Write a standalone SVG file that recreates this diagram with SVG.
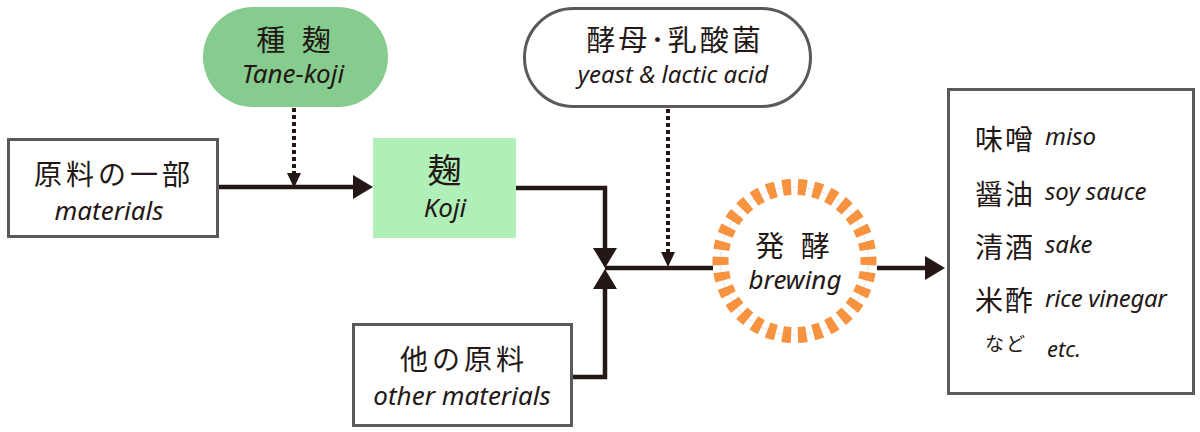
<svg xmlns="http://www.w3.org/2000/svg" width="1200" height="432" viewBox="0 0 1200 432">
<style>
.jp{font-family:"Noto Sans CJK JP","Noto Sans",sans-serif;fill:#231815}
.en{font-family:"Noto Sans","Open Sans",sans-serif;font-style:italic;fill:#231815}
.box{fill:#fff;stroke:#5a5a5a;stroke-width:3}
.con{fill:none;stroke:#231815;stroke-width:4.5;stroke-linejoin:miter}
.dot{fill:none;stroke:#231815;stroke-width:4;stroke-dasharray:4 3}
</style>
<defs>
<marker id="a" markerUnits="userSpaceOnUse" markerWidth="20" markerHeight="24" viewBox="0 0 20 24" refX="0" refY="12" orient="auto"><path d="M0,0 L20,12 L0,24 z" fill="#231815"/></marker>
<marker id="d" markerUnits="userSpaceOnUse" markerWidth="15" markerHeight="14" viewBox="0 0 15 14" refX="0" refY="7" orient="auto"><path d="M0,0 L15,7 L0,14 z" fill="#231815"/></marker>
</defs>
<rect width="1200" height="432" fill="#fff"/>
<g id="connectors">
<path class="con" d="M219 187 H353" marker-end="url(#a)"/>
<path class="con" d="M516 188 H605 V248" marker-end="url(#a)"/>
<path class="con" d="M573 377 H605 V289" marker-end="url(#a)"/>
<path class="con" d="M605 268 H713"/>
<path class="con" d="M877 268 H925" marker-end="url(#a)"/>
<path class="dot" d="M294 108 V173" marker-end="url(#d)"/>
<path class="dot" d="M668 109 V252" marker-end="url(#d)"/>
</g>
<g id="tane-koji">
<rect x="203" y="7" width="185" height="100" rx="50" fill="#86cc8e"/>
<text class="jp" x="296" y="51" font-size="29" text-anchor="middle" letter-spacing="5">種 麹</text>
<text class="en" x="293" y="83" font-size="26" text-anchor="middle">Tane-koji</text>
</g>
<g id="materials">
<rect class="box" x="8.5" y="139.5" width="209" height="97"/>
<text class="jp" x="114" y="185" font-size="28" text-anchor="middle" letter-spacing="4">原料の一部</text>
<text class="en" x="109" y="220" font-size="26" text-anchor="middle">materials</text>
</g>
<g id="koji">
<rect x="373" y="138" width="143" height="100" fill="#b1efb9"/>
<text class="jp" x="444.5" y="183" font-size="34" text-anchor="middle">麹</text>
<text class="en" x="445" y="217" font-size="26" text-anchor="middle">Koji</text>
</g>
<g id="yeast">
<rect x="524.5" y="8.5" width="286" height="98" rx="49" fill="#fff" stroke="#5a5a5a" stroke-width="3"/>
<text class="jp" x="675" y="51" font-size="29" text-anchor="middle" letter-spacing="3">酵母･乳酸菌</text>
<text class="en" x="673" y="83" font-size="24" text-anchor="middle">yeast &amp; lactic acid</text>
</g>
<g id="other">
<rect class="box" x="353.5" y="324.5" width="218" height="101"/>
<text class="jp" x="464" y="370" font-size="28" text-anchor="middle" letter-spacing="4">他の原料</text>
<text class="en" x="462" y="405" font-size="26" text-anchor="middle">other materials</text>
</g>
<g id="brewing">
<circle cx="794.5" cy="261" r="74" fill="#fff" stroke="#e6e6e6" stroke-width="1"/>
<circle cx="794.5" cy="261" r="74" fill="none" stroke="#f7923f" stroke-width="16" pathLength="30" stroke-dasharray="0.55 0.45" stroke-dashoffset="0.275"/>
<text class="jp" x="795" y="257" font-size="29" text-anchor="middle" letter-spacing="5">発 酵</text>
<text class="en" x="795" y="289" font-size="26" text-anchor="middle">brewing</text>
</g>
<g id="products">
<rect class="box" x="948.5" y="89.5" width="245" height="304"/>
<text class="jp" x="975" y="150" font-size="28" letter-spacing="2">味噌</text>
<text class="en" x="1045" y="145" font-size="24">miso</text>
<text class="jp" x="975" y="205" font-size="28" letter-spacing="2">醤油</text>
<text class="en" x="1045" y="200" font-size="24">soy sauce</text>
<text class="jp" x="975" y="258" font-size="28" letter-spacing="2">清酒</text>
<text class="en" x="1045" y="253" font-size="24">sake</text>
<text class="jp" x="975" y="311" font-size="28" letter-spacing="2">米酢</text>
<text class="en" x="1045" y="307" font-size="24" letter-spacing="-0.3">rice vinegar</text>
<text class="jp" x="985" y="351" font-size="19" letter-spacing="2">など</text>
<text class="en" x="1047" y="357" font-size="22">etc.</text>
</g>
</svg>
